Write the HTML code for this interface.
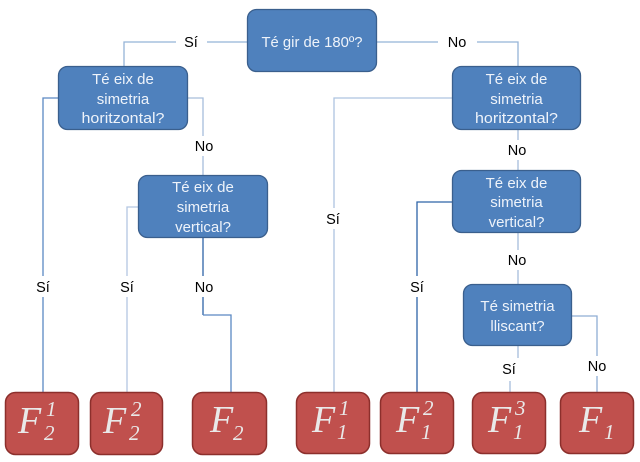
<!DOCTYPE html>
<html><head><meta charset="utf-8"><style>
html,body{margin:0;padding:0;background:#fff;}
svg{display:block;}
.bt{font-family:"Liberation Sans",sans-serif;font-size:15px;fill:#eef3fa;text-anchor:middle;}
.lb{font-family:"Liberation Sans",sans-serif;font-size:14.5px;fill:#000;text-anchor:middle;}
.F{font-family:"Liberation Serif",serif;font-style:italic;fill:#e9e9e9;}
</style></head><body>
<svg width="640" height="462" viewBox="0 0 640 462" xmlns="http://www.w3.org/2000/svg">
<g fill="none" stroke-width="1.3">
<path d="M247 42 H207 M176 42 H124 V66" stroke="#95b3d7"/>
<path d="M377 42 H438 M477 42 H518 V66" stroke="#95b3d7"/>
<path d="M58 98 H43 V276 M43 297 V392" stroke="#5a88c2"/>
<path d="M188 98 H203 V136 M203 156 V175" stroke="#a6bddb"/>
<path d="M138 207 H127 V276 M127 297 V392" stroke="#b3c7e2"/>
<path d="M203 238 V276 M203 297 V315" stroke="#2e63a8"/>
<path d="M203 315 H231 V392" stroke="#5a88c2"/>
<path d="M452 98 H334 V208 M334 229 V392" stroke="#aec4e0"/>
<path d="M518 130 V140 M518 160 V170" stroke="#a6bddb"/>
<path d="M452 202 H417 V276 M417 297 V392" stroke="#2e63a8"/>
<path d="M518 233 V250 M518 270 V284" stroke="#a6bddb"/>
<path d="M572 316 H597 V356 M597 376 V392" stroke="#8fadd4"/>
<path d="M518 346 V358 M510 381 V392" stroke="#a6bddb"/>
</g>

<g fill="#4f81bd" stroke="#3a5f8d" stroke-width="1.3">
<rect x="247.5" y="9.5" width="129" height="62" rx="9"/>
<rect x="58.5" y="66.5" width="129" height="63" rx="9"/>
<rect x="138.5" y="175.5" width="129" height="62" rx="9"/>
<rect x="452.5" y="66.5" width="128" height="63" rx="9"/>
<rect x="452.5" y="170.5" width="128" height="62" rx="9"/>
<rect x="463.5" y="284.5" width="108" height="61" rx="9"/>
</g>
<text class="bt" x="312" y="47" textLength="101" lengthAdjust="spacingAndGlyphs">Té gir de 180º?</text>
<text class="bt" x="123" y="84">Té eix de</text>
<text class="bt" x="123" y="104">simetria</text>
<text class="bt" x="123" y="123" textLength="83" lengthAdjust="spacingAndGlyphs">horitzontal?</text>
<text class="bt" x="203" y="192">Té eix de</text>
<text class="bt" x="203" y="212">simetria</text>
<text class="bt" x="203" y="232">vertical?</text>
<text class="bt" x="516.5" y="84">Té eix de</text>
<text class="bt" x="516.5" y="104">simetria</text>
<text class="bt" x="516.5" y="123" textLength="83" lengthAdjust="spacingAndGlyphs">horitzontal?</text>
<text class="bt" x="516.5" y="188">Té eix de</text>
<text class="bt" x="516.5" y="207">simetria</text>
<text class="bt" x="516.5" y="227">vertical?</text>
<text class="bt" x="517.5" y="311">Té simetria</text>
<text class="bt" x="517.5" y="331">lliscant?</text>

<text class="lb" x="191" y="47">Sí</text>
<text class="lb" x="457" y="47">No</text>
<text class="lb" x="204" y="151">No</text>
<text class="lb" x="43" y="292">Sí</text>
<text class="lb" x="127" y="292">Sí</text>
<text class="lb" x="204" y="292">No</text>
<text class="lb" x="333" y="224">Sí</text>
<text class="lb" x="517" y="155">No</text>
<text class="lb" x="517" y="265">No</text>
<text class="lb" x="417" y="292">Sí</text>
<text class="lb" x="509" y="374">Sí</text>
<text class="lb" x="597" y="371">No</text>

<g fill="#c0504d" stroke="#8c2f2c" stroke-width="1.5">
<rect x="5.5" y="392.5" width="73" height="62" rx="10"/>
<rect x="90.5" y="392.5" width="72" height="62" rx="10"/>
<rect x="192.5" y="392.5" width="74" height="62" rx="10"/>
<rect x="296.5" y="392.5" width="73" height="61" rx="10"/>
<rect x="380.5" y="392.5" width="73" height="61" rx="10"/>
<rect x="472.5" y="392.5" width="73" height="61" rx="10"/>
<rect x="560.5" y="392.5" width="73" height="61" rx="10"/>
</g>
<g class="F">
<text x="18" y="433" style="font-size:38px">F</text>
<text x="46" y="416" style="font-size:21px">1</text>
<text x="44" y="440" style="font-size:21px">2</text>

<text x="103" y="433" style="font-size:38px">F</text>
<text x="131" y="416" style="font-size:21px">2</text>
<text x="129" y="440" style="font-size:21px">2</text>

<text x="210" y="432" style="font-size:38px">F</text>
<text x="233" y="440" style="font-size:21px">2</text>

<text x="312" y="432" style="font-size:38px">F</text>
<text x="339" y="415" style="font-size:21px">1</text>
<text x="337" y="439" style="font-size:21px">1</text>

<text x="396" y="432" style="font-size:38px">F</text>
<text x="423" y="415" style="font-size:21px">2</text>
<text x="421" y="439" style="font-size:21px">1</text>

<text x="488" y="432" style="font-size:38px">F</text>
<text x="515" y="415" style="font-size:21px">3</text>
<text x="513" y="439" style="font-size:21px">1</text>

<text x="579" y="432" style="font-size:38px">F</text>
<text x="604" y="439" style="font-size:21px">1</text>
</g>
</svg>
</body></html>
